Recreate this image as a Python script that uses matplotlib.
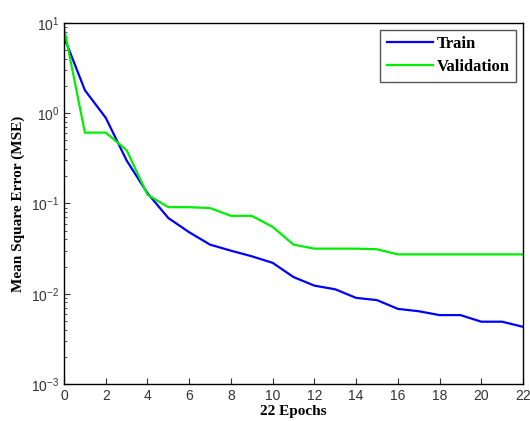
import matplotlib
matplotlib.use("Agg")
import matplotlib.pyplot as plt
from matplotlib.ticker import LogLocator, NullFormatter

# values
epochs = list(range(23))
train_mse = [7.0, 1.8, 0.89, 0.30, 0.13, 0.069, 0.048, 0.035, 0.030, 0.026, 0.022,
             0.0153, 0.0123, 0.0112, 0.0090, 0.0085, 0.0068, 0.0064, 0.0058, 0.0058,
             0.0049, 0.0049, 0.0043]
val_mse = [8.8, 0.61, 0.61, 0.39, 0.125, 0.091, 0.091, 0.089, 0.073, 0.073, 0.055,
           0.035, 0.0316, 0.0316, 0.0316, 0.0311, 0.0273, 0.0273, 0.0273, 0.0273,
           0.0273, 0.0273, 0.0273]

plt.rcParams['font.family'] = ['Liberation Sans', 'DejaVu Sans']
plt.rcParams['mathtext.default'] = 'regular'

fig = plt.figure(figsize=(5.3, 4.21), dpi=100)
ax = fig.add_axes([0.1208, 0.0879, 0.866, 0.8575])

ax.plot(epochs, train_mse, color='#0000ff', lw=1.6, label='Train')
ax.plot(epochs, val_mse, color='#00ee00', lw=1.6, label='Validation')

ax.set_yscale('log')
ax.set_ylim(1e-3, 1e1)
ax.set_xlim(0, 22)
ax.set_xticks(range(0, 23, 2))
ax.yaxis.set_major_locator(LogLocator(base=10, numticks=10))
ax.yaxis.set_minor_locator(LogLocator(base=10, subs=range(2, 10), numticks=50))
ax.yaxis.set_minor_formatter(NullFormatter())

ax.tick_params(which='both', direction='in', top=False, right=False,
               labelsize=10, colors='#333333')
ax.tick_params(which='major', length=4)
ax.tick_params(which='minor', length=2.5)
for s in ax.spines.values():
    s.set_linewidth(1.0)

serif = ['Liberation Serif', 'DejaVu Serif']
ax.set_xlabel('22 Epochs', family=serif, fontweight='bold', fontsize=11, labelpad=1.5)
ax.set_ylabel('Mean Square Error (MSE)', family=serif, fontweight='bold',
              fontsize=11, labelpad=4)

leg = ax.legend(loc='upper right', prop={'family': serif, 'weight': 'bold', 'size': 12},
                fancybox=False, edgecolor='#555555', framealpha=1,
                handlelength=2.8, handletextpad=0.2, borderaxespad=0.4,
                labelspacing=0.4)
leg.get_frame().set_linewidth(1.0)

plt.savefig('out.png', dpi=100)
